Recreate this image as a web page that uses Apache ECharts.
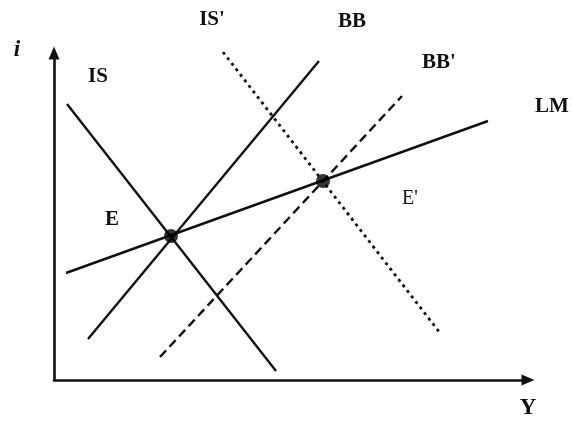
<!DOCTYPE html>
<html>
<head>
<meta charset="utf-8">
<script src="https://cdn.jsdelivr.net/npm/echarts@6/dist/echarts.min.js"></script>
<style>
  html, body { margin: 0; padding: 0; background: #fff; }
  #main { width: 572px; height: 421px; }
</style>
</head>
<body>
<div id="main"></div>
<script>
// curve end points, in axis units (origin at the corner of the axes)
const lmLine = [[12, 107], [434, 259]];
const isLine = [[13, 276], [222, 9]];
const bbLine = [[34, 41], [265, 319]];
const isPrimeLine = [[169, 328], [386, 47]];
const bbPrimeLine = [[106, 23], [348, 284]];
// equilibria
const eqPoints = [[117, 144], [269, 199]];

const serif = '"Liberation Serif", "DejaVu Serif", serif';

function txt(text, x, y, size, style) {
    return {
        type: 'text',
        style: {
            text: text,
            x: x,
            y: y,
            textAlign: 'center',
            textVerticalAlign: 'middle',
            font: (style || 'bold') + ' ' + size + 'px ' + serif,
            fill: '#111'
        }
    };
}

function seg(data, type, width) {
    return {
        type: 'line',
        data: data,
        symbol: 'none',
        silent: true,
        lineStyle: { color: '#111', width: width || 2.4, type: type || 'solid' }
    };
}

function axisLineStyle() {
    return {
        show: true,
        onZero: false,
        symbol: ['none', 'triangle'],
        symbolSize: [11, 13],
        symbolOffset: [0, 0],
        lineStyle: { color: '#111', width: 2.6 }
    };
}

let chart = echarts.init(document.getElementById('main'));
chart.setOption({
    animation: false,
    backgroundColor: '#fff',
    grid: { left: 54, right: 44, top: 53, bottom: 41 },
    xAxis: {
        type: 'value',
        min: 0,
        max: 474,
        axisLine: axisLineStyle(),
        axisTick: { show: false },
        axisLabel: { show: false },
        splitLine: { show: false }
    },
    yAxis: {
        type: 'value',
        min: 0,
        max: 327,
        axisLine: axisLineStyle(),
        axisTick: { show: false },
        axisLabel: { show: false },
        splitLine: { show: false }
    },
    series: [
        seg(lmLine),
        seg(isLine),
        seg(bbLine),
        seg(isPrimeLine, [3, 4], 2.8),
        seg(bbPrimeLine, [9, 5], 2.4),
        {
            type: 'scatter',
            data: eqPoints,
            symbol: 'circle',
            symbolSize: 14,
            itemStyle: { color: '#000' },
            z: 5
        }
    ],
    graphic: [
        txt('i', 17, 50, 23, 'italic bold'),
        txt('IS', 98, 77, 21),
        txt('IS\'', 212, 20, 21),
        txt('BB', 352, 22, 21),
        txt('BB\'', 439, 63, 21),
        txt('LM', 552, 107, 21),
        txt('E', 112, 220, 21),
        txt('E\'', 410, 199, 20, 'normal'),
        txt('Y', 528, 408, 23)
    ]
});
</script>
</body>
</html>
